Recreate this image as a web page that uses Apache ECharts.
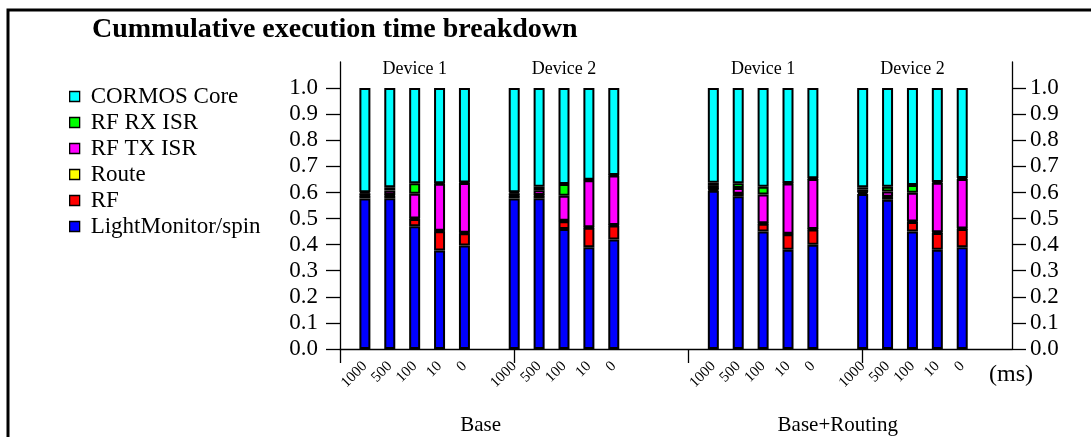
<!DOCTYPE html>
<html>
<head>
<meta charset="utf-8">
<script src="https://cdn.jsdelivr.net/npm/echarts@6/dist/echarts.min.js"></script>
<style>
  html, body { margin: 0; padding: 0; background: #fff; }
  #chart { width: 1091px; height: 437px; }
</style>
</head>
<body>
<div id="chart"></div>
<script>
// x slots, '' is an empty spacer between groups
var slots = ['', '1000', '500', '100', '10', '0', '', '1000', '500', '100', '10', '0', '', '', '',
  '1000', '500', '100', '10', '0', '', '1000', '500', '100', '10', '0', '', ''];
var groupNames = ['Base', 'Base+Routing'];
var groupPos = [5.65, 20];
var deviceNames = ['Device 1', 'Device 2', 'Device 1', 'Device 2'];
var devicePos = [3, 9, 17, 23];
var yTicks = ['0.0', '0.1', '0.2', '0.3', '0.4', '0.5', '0.6', '0.7', '0.8', '0.9', '1.0'];

// one value per bar, left to right
var lightMonitor = [0.577, 0.578, 0.470, 0.378, 0.397, 0.577, 0.578, 0.460, 0.390, 0.420,
  0.607, 0.585, 0.450, 0.380, 0.400, 0.594, 0.572, 0.450, 0.380, 0.390];
var rf = [0.010, 0.010, 0.028, 0.073, 0.047, 0.010, 0.010, 0.030, 0.075, 0.053,
  0.004, 0.008, 0.030, 0.060, 0.058, 0.006, 0.010, 0.037, 0.065, 0.070];
var route = [0.002, 0.002, 0.002, 0.002, 0.002, 0.002, 0.002, 0.002, 0.002, 0.002,
  0.002, 0.002, 0.002, 0.002, 0.002, 0.002, 0.002, 0.002, 0.002, 0.002];
var rfTx = [0.008, 0.017, 0.095, 0.180, 0.190, 0.008, 0.018, 0.095, 0.180, 0.190,
  0.012, 0.022, 0.110, 0.192, 0.192, 0.010, 0.020, 0.110, 0.190, 0.190];
var rfRx = [0.004, 0.013, 0.040, 0.002, 0.002, 0.004, 0.014, 0.045, 0.002, 0.002,
  0.012, 0.018, 0.030, 0.002, 0.002, 0.008, 0.018, 0.030, 0.003, 0.003];
var core = [0.399, 0.380, 0.365, 0.365, 0.362, 0.399, 0.378, 0.368, 0.351, 0.333,
  0.363, 0.365, 0.378, 0.364, 0.346, 0.380, 0.378, 0.371, 0.360, 0.345];

var FONT = 'Liberation Serif';

// put the bar values into the non-empty slots
function toSlots(vals) {
  var out = [], k = 0;
  slots.forEach(function (s) { out.push(s === '' ? '-' : vals[k++]); });
  return out;
}

function bar(name, vals, color) {
  return {
    name: name, type: 'bar', stack: 'total', xAxisIndex: 0, yAxisIndex: 0,
    barWidth: 11, data: toSlots(vals),
    itemStyle: { color: color, borderColor: '#000', borderWidth: 2 }
  };
}

var chart = echarts.init(document.getElementById('chart'));
var yLeftRight = function (pos, margin) {
  return {
    type: 'value', position: pos, min: 0, max: 1.1, interval: 0.1,
    axisLine: { show: true, lineStyle: { color: '#000', width: 1.3 } },
    axisTick: { show: true, length: 14, customValues: yTicks.map(Number), lineStyle: { color: '#000', width: 1.3 } },
    axisLabel: { customValues: yTicks.map(Number), margin: margin, color: '#000', fontFamily: FONT, fontSize: 23,
      formatter: function (v) { return v.toFixed(1); } },
    splitLine: { show: false }
  };
};

var option = {
  backgroundColor: '#fff',
  animation: false,
  title: {
    text: 'Cummulative execution time breakdown', left: 87, top: 11,
    textStyle: { fontFamily: FONT, fontWeight: 'bold', fontSize: 28, color: '#000' }
  },
  legend: {
    orient: 'vertical', left: 64, top: 80, itemWidth: 10, itemHeight: 10, itemGap: 3, icon: 'rect',
    data: ['CORMOS Core', 'RF RX ISR', 'RF TX ISR', 'Route', 'RF', 'LightMonitor/spin'],
    itemStyle: { borderColor: '#000', borderWidth: 1.3 },
    textStyle: { fontFamily: FONT, fontSize: 23, color: '#000', lineHeight: 23, padding: [0, 0, 0, 6] }
  },
  grid: { left: 340, right: 79, top: 62, bottom: 88, outerBoundsMode: 'none' },
  xAxis: [{
    type: 'category', data: slots, boundaryGap: false,
    axisLine: { lineStyle: { color: '#000', width: 1.3 } },
    axisTick: { length: 14, interval: function (i) { return i % 7 === 0 && i < 27; }, lineStyle: { color: '#000', width: 1.3 } },
    axisLabel: { interval: 0, rotate: 45, margin: 15, color: '#000', fontFamily: FONT, fontSize: 15 }
  }, {
    // hidden linear twin of the slot axis, used to place group texts
    type: 'value', min: 0, max: 27, show: false
  }],
  yAxis: [yLeftRight('left', 22), yLeftRight('right', 18)],
  series: [
    bar('LightMonitor/spin', lightMonitor, '#0000ff'),
    bar('RF', rf, '#ff0000'),
    bar('Route', route, '#ffff00'),
    bar('RF TX ISR', rfTx, '#ff00ff'),
    bar('RF RX ISR', rfRx, '#00ff00'),
    bar('CORMOS Core', core, '#00ffff')
  ]
};
chart.setOption(option);

// texts placed through the hidden axis scale
var texts = [{
  type: 'rect', shape: { x: 8, y: 10, width: 1200, height: 600 },
  style: { fill: 'none', stroke: '#000', lineWidth: 3 }, silent: true
}, {
  type: 'text', x: 1011, y: 375,
  style: { text: '(ms)', fill: '#000', font: '24px "Liberation Serif"', textAlign: 'center', textVerticalAlign: 'middle' }
}];
groupNames.forEach(function (g, i) {
  texts.push({
    type: 'text', x: chart.convertToPixel({ xAxisIndex: 1 }, groupPos[i]), y: 425,
    style: { text: g, fill: '#000', font: '21px "Liberation Serif"', textAlign: 'center', textVerticalAlign: 'middle' }
  });
});
deviceNames.forEach(function (d, i) {
  texts.push({
    type: 'text', x: chart.convertToPixel({ xAxisIndex: 1 }, devicePos[i]), y: 69,
    style: { text: d, fill: '#000', font: '18px "Liberation Serif"', textAlign: 'center', textVerticalAlign: 'middle' }
  });
});
chart.setOption({ graphic: texts });
</script>
</body>
</html>
